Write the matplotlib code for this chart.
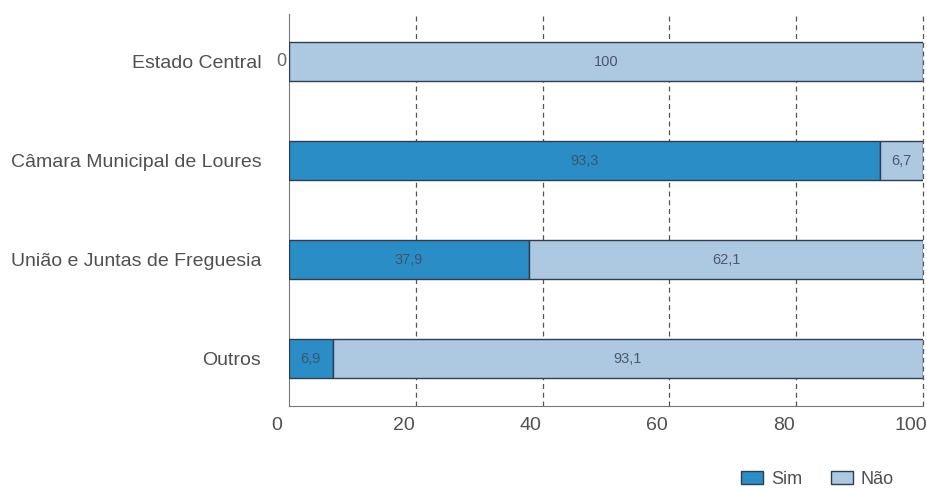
import numpy as np
import matplotlib.pyplot as plt
import matplotlib.transforms as mtransforms

plt.rcParams['font.family'] = ['Liberation Sans', 'DejaVu Sans']

categorias = ['Estado Central', 'Câmara Municipal de Loures', 'União e Juntas de Freguesia', 'Outros']
sim = [0, 93.3, 37.9, 6.9]
nao = [100, 6.7, 62.1, 93.1]
ticks = [0, 20, 40, 60, 80, 100]

cor_sim = '#2a8dc5'
cor_nao = '#adc8e1'
cor_borda = '#2c3e50'

fig = plt.figure(figsize=(9.28, 4.88), dpi=100)
ax = fig.add_axes([0.3114, 0.168, 0.683, 0.803])

y = np.arange(len(categorias))
b1 = ax.barh(y, sim, height=0.4, color=cor_sim, edgecolor=cor_borda, linewidth=1, label='Sim', zorder=3)
b2 = ax.barh(y, nao, left=sim, height=0.4, color=cor_nao, edgecolor=cor_borda, linewidth=1, label='Não', zorder=3)

# rotulos dos valores
for i in range(len(categorias)):
    s, n = sim[i], nao[i]
    if s == 0:
        ax.text(-0.4, i, '0', ha='right', va='center', fontsize=13, color='#666666')
    else:
        ax.text(s / 2, i, str(s).replace('.', ','), ha='center', va='center', fontsize=10.5, color='#3a5572', zorder=4)
    ax.text(s + n / 2, i, str(n if n != int(n) else int(n)).replace('.', ','), ha='center', va='center',
            fontsize=10.5, color='#4a5a6c', zorder=4)

ax.set_xlim(0, 100)
ax.set_ylim(3.48, -0.48)
ax.set_yticks(y)
ax.set_yticklabels(categorias, fontsize=14, color='#505050')
ax.set_xticks(ticks)
ax.set_xticklabels([str(t) for t in ticks], fontsize=14, color='#505050')
ax.tick_params(axis='y', length=0, pad=20)
ax.tick_params(axis='x', length=0, pad=8)

offset = mtransforms.ScaledTranslation(-12 / 100, 0, fig.dpi_scale_trans)
for lab in ax.get_xticklabels():
    lab.set_transform(lab.get_transform() + offset)

for t in ticks[1:]:
    ax.axvline(t, color='#555555', linestyle=(0, (4, 3)), linewidth=0.9, zorder=1, clip_on=False)

for side in ['top', 'right']:
    ax.spines[side].set_visible(False)
ax.spines['left'].set_color('#777777')
ax.spines['bottom'].set_color('#777777')

fig.legend(handles=[b1, b2], labels=['Sim', 'Não'], loc='lower right', bbox_to_anchor=(0.975, -0.022),
           ncol=2, frameon=False, fontsize=13, handlelength=1.2, handleheight=0.7, columnspacing=1.6,
           handletextpad=0.45, borderpad=0.1, labelcolor='#505050')

fig.savefig('out.png', dpi=100)
